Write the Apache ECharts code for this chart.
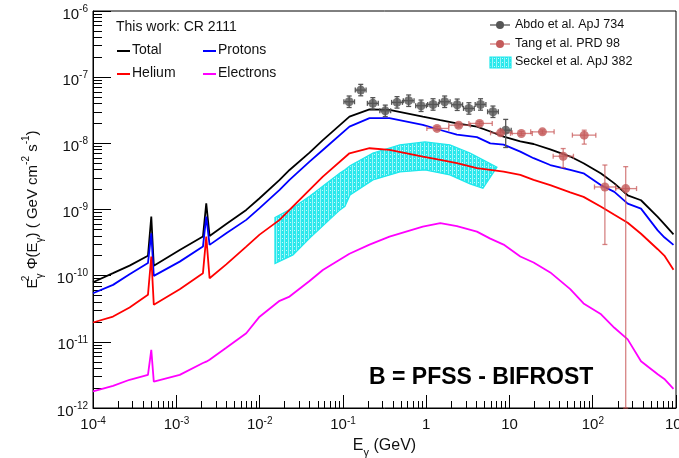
<!DOCTYPE html>
<html><head><meta charset="utf-8">
<script src="https://cdn.jsdelivr.net/npm/echarts@6/dist/echarts.min.js"></script>
<style>html,body{margin:0;padding:0;background:#fff}#c{width:679px;height:458px}</style>
</head><body><div id="c"></div>
<script>
// ---- model curves (E in GeV, E^2 Phi in GeV cm^-2 s^-1) ----
const energy = [1.00e-4,1.74e-4,2.75e-4,4.57e-4,5.01e-4,5.37e-4,1.10e-3,2.09e-3,2.29e-3,2.51e-3,
  3.98e-3,6.92e-3,1.00e-2,1.74e-2,2.29e-2,3.98e-2,5.75e-2,0.120,0.209,0.363,
  0.912,1.48,2.34,4.07,5.89,8.51,13.5,19.5,30.9,53.7,
  77.6,126,182,263,380,603,724,933];
const total = [7.94e-11,1.09e-10,1.42e-10,2.00e-10,7.82e-10,1.41e-10,2.45e-10,3.90e-10,1.24e-9,3.99e-10,
  6.03e-10,9.86e-10,1.48e-9,2.80e-9,3.96e-9,7.24e-9,1.12e-8,2.53e-8,3.27e-8,3.20e-8,
  2.53e-8,2.24e-8,2.01e-8,1.79e-8,1.51e-8,1.26e-8,1.07e-8,9.77e-9,8.13e-9,6.31e-9,
  5.01e-9,3.51e-9,2.48e-9,1.64e-9,1.38e-9,7.73e-10,6.03e-10,4.21e-10];
const protons = [5.43e-11,7.26e-11,1.05e-10,1.55e-10,4.37e-10,9.93e-11,1.63e-10,2.75e-10,7.82e-10,2.92e-10,
  4.37e-10,6.97e-10,1.05e-9,1.98e-9,2.80e-9,5.30e-9,7.94e-9,1.79e-8,2.40e-8,2.40e-8,
  1.90e-8,1.59e-8,1.35e-8,1.24e-8,1.00e-8,9.55e-9,7.50e-9,5.96e-9,4.70e-9,3.98e-9,
  3.53e-9,2.33e-9,1.85e-9,1.23e-9,1.03e-9,4.83e-10,3.80e-10,2.92e-10];
const helium = [1.96e-11,2.41e-11,3.31e-11,5.13e-11,1.95e-10,3.63e-11,6.25e-11,1.09e-10,3.90e-10,9.16e-11,
  1.48e-10,2.75e-10,4.17e-10,6.97e-10,9.86e-10,1.98e-9,3.14e-9,7.08e-9,8.43e-9,7.94e-9,
  6.31e-9,5.62e-9,5.01e-9,4.21e-9,3.98e-9,3.74e-9,3.33e-9,2.80e-9,2.33e-9,1.82e-9,
  1.55e-9,1.10e-9,8.32e-10,6.31e-10,4.30e-10,2.51e-10,2.01e-10,1.23e-10];
const electrons = [1.78e-12,2.16e-12,2.67e-12,3.17e-12,7.57e-12,2.51e-12,3.17e-12,4.79e-12,5.01e-12,5.37e-12,
  8.13e-12,1.35e-11,2.40e-11,4.17e-11,4.83e-11,8.32e-11,1.22e-10,2.14e-10,2.95e-10,3.90e-10,
  5.52e-10,6.21e-10,5.62e-10,4.63e-10,3.63e-10,2.95e-10,1.95e-10,1.58e-10,1.12e-10,6.25e-11,
  3.80e-11,2.61e-11,1.63e-11,1.09e-11,5.09e-12,3.24e-12,2.75e-12,1.95e-12];

// ---- Abdo et al. ApJ 734 ----
const abdoE   = [0.119,0.164,0.229,0.323,0.447,0.617,0.869,1.21,1.67,2.36,3.26,4.50,6.34,9.02];
const abdoElo = [0.103,0.141,0.197,0.278,0.385,0.532,0.749,1.043,1.44,2.03,2.81,3.88,5.47,7.78];
const abdoEhi = [0.138,0.190,0.266,0.375,0.519,0.716,1.008,1.404,1.94,2.74,3.78,5.22,7.35,10.5];
const abdoF   = [4.25e-8,6.38e-8,4.02e-8,3.10e-8,4.16e-8,4.41e-8,3.70e-8,3.87e-8,4.25e-8,3.83e-8,3.37e-8,3.87e-8,3.00e-8,1.58e-8];
const abdoFlo = [3.48e-8,5.23e-8,3.30e-8,2.54e-8,3.41e-8,3.61e-8,3.03e-8,3.17e-8,3.48e-8,3.14e-8,2.76e-8,3.17e-8,2.46e-8,8.65e-9];
const abdoFhi = [5.19e-8,7.78e-8,4.90e-8,3.78e-8,5.08e-8,5.38e-8,4.51e-8,4.72e-8,5.19e-8,4.67e-8,4.11e-8,4.72e-8,3.66e-8,2.30e-8];

// ---- Tang et al. PRD 98 ----
const tangE   = [1.35,2.46,4.38,7.83,13.9,24.9,44.2,79.1,140,249];
const tangElo = [1.02,1.87,3.26,5.93,10.3,18.0,33.5,57.0,105,189];
const tangEhi = [1.87,3.40,6.22,10.8,18.8,34.4,58.7,109,189,336];
const tangF   = [1.68e-8,1.88e-8,2.00e-8,1.44e-8,1.41e-8,1.49e-8,6.38e-9,1.33e-8,2.19e-9,2.07e-9];
const tangFlo = [1.57e-8,1.76e-8,1.87e-8,1.35e-8,1.32e-8,1.39e-8,4.30e-9,9.73e-9,2.96e-10,1.00e-12];
const tangFhi = [1.80e-8,2.01e-8,2.14e-8,1.54e-8,1.51e-8,1.59e-8,8.34e-9,1.58e-8,4.70e-9,4.44e-9];

// ---- Seckel et al. ApJ 382 band ----
const seckelE  = [1.53e-2,2.52e-2,4.03e-2,9.23e-2,0.106,0.122,0.230,0.484,0.968,1.93,3.36,4.81,7.08];
const seckelLo = [1.53e-10,2.06e-10,3.72e-10,9.86e-10,1.12e-9,1.66e-9,2.80e-9,3.70e-9,3.96e-9,3.33e-9,2.44e-9,2.09e-9,4.37e-9];
const seckelHi = [7.59e-10,1.06e-9,1.60e-9,3.57e-9,3.98e-9,4.57e-9,7.16e-9,9.46e-9,1.05e-8,9.46e-9,7.16e-9,5.62e-9,4.37e-9];

// ---- tick labels ----
const xTickValues = [1e-4,1e-3,1e-2,1e-1,1,10,100,1000];
const xTickBase   = ['10','10','10','10','1','10','10','10'];
const xTickExp    = ['-4','-3','-2','-1','','','2','3'];
const yTickValues = [1e-12,1e-11,1e-10,1e-9,1e-8,1e-7,1e-6];
const yTickBase   = ['10','10','10','10','10','10','10'];
const yTickExp    = ['-12','-11','-10','-9','-8','-7','-6'];

const FONT = "'Liberation Sans', Arial, Helvetica, sans-serif";

function minorTicks(lo, hi) {
  const out = [];
  for (let e = lo; e < hi; e++) for (let m = 2; m <= 9; m++) out.push(m * Math.pow(10, e));
  return out;
}
function findIdx(vals, v) {
  for (let i = 0; i < vals.length; i++) if (Math.abs(Math.log10(v) - Math.log10(vals[i])) < 0.01) return i;
  return -1;
}
function makeFmt(vals, base, exp) {
  return function (v) {
    const i = findIdx(vals, v);
    if (i < 0) return '';
    return '{z| }{b|' + base[i] + '}' + (exp[i] ? '{s|' + exp[i] + '}' : '');
  };
}
function makePattern() {
  const cv = document.createElement('canvas'); cv.width = 4; cv.height = 4;
  const g = cv.getContext('2d');
  g.fillStyle = '#2ae8ec'; g.fillRect(0, 0, 4, 4);
  g.fillStyle = '#9af5f7'; g.fillRect(0, 0, 1, 4);
  g.fillStyle = '#c8fbfc'; g.fillRect(2, 2, 1, 1);
  return cv;
}
const pattern = makePattern();

function errRender(color) {
  return function (params, api) {
    const x = api.value(0), y = api.value(1);
    const c = api.coord([x, y]);
    const l = api.coord([api.value(2), y]);
    const r = api.coord([api.value(3), y]);
    const b = api.coord([x, api.value(4)]);
    const t = api.coord([x, api.value(5)]);
    const st = { stroke: color, lineWidth: 1.3 };
    const cap = 2.5;
    return { type: 'group', children: [
      { type: 'line', shape: { x1: l[0], y1: c[1], x2: r[0], y2: c[1] }, style: st },
      { type: 'line', shape: { x1: c[0], y1: b[1], x2: c[0], y2: t[1] }, style: st },
      { type: 'line', shape: { x1: l[0], y1: c[1] - cap, x2: l[0], y2: c[1] + cap }, style: st },
      { type: 'line', shape: { x1: r[0], y1: c[1] - cap, x2: r[0], y2: c[1] + cap }, style: st },
      { type: 'line', shape: { x1: c[0] - cap, y1: b[1], x2: c[0] + cap, y2: b[1] }, style: st },
      { type: 'line', shape: { x1: c[0] - cap, y1: t[1], x2: c[0] + cap, y2: t[1] }, style: st }
    ]};
  };
}

const labelRichX = {
  z: { fontSize: 1, lineHeight: 20 },
  b: { fontSize: 15, lineHeight: 15, verticalAlign: 'bottom', fontFamily: FONT, color: '#111' },
  s: { fontSize: 10, verticalAlign: 'top', padding: [4, 0, 0, 0], fontFamily: FONT, color: '#111' }
};
const labelRichY = {
  z: { fontSize: 1, lineHeight: 22 },
  b: { fontSize: 15, lineHeight: 15, verticalAlign: 'bottom', fontFamily: FONT, color: '#111' },
  s: { fontSize: 10, verticalAlign: 'top', padding: [4, 0, 0, 0], fontFamily: FONT, color: '#111' }
};

function lineSeries(name, ys, color) {
  return {
    name: name, type: 'line', xAxisIndex: 0, yAxisIndex: 0, z: 3,
    data: energy.map((e, i) => [e, ys[i]]),
    symbol: 'none', showSymbol: false, smooth: false,
    lineStyle: { color: color, width: 1.8 }, itemStyle: { color: color },
    emphasis: { disabled: true }
  };
}

const chart = echarts.init(document.getElementById('c'), null, { renderer: 'canvas' });
const option = {
  animation: false,
  backgroundColor: '#fff',
  grid: { left: 93, right: 3, top: 11, bottom: 50, show: true, borderColor: '#000', borderWidth: 1,
          backgroundColor: 'rgba(0,0,0,0)', containLabel: false, outerBoundsMode: 'none' },
  xAxis: [{
    type: 'log', logBase: 10, min: 1e-4, max: 1e3, position: 'bottom',
    axisLine: { show: true, lineStyle: { color: '#000', width: 1 } },
    axisTick: { show: true, inside: true, length: 13, lineStyle: { color: '#000' }, customValues: xTickValues },
    axisLabel: { show: true, customValues: xTickValues, margin: 4, hideOverlap: false,
                 formatter: makeFmt(xTickValues, xTickBase, xTickExp), rich: labelRichX },
    splitLine: { show: false },
    name: '{m|E}{sub|γ}{m| (GeV)}', nameLocation: 'middle', nameGap: 26,
    nameTextStyle: { fontFamily: FONT, fontSize: 16, color: '#111', rich: {
      m: { fontSize: 16, lineHeight: 24, fontFamily: FONT, color: '#111' },
      sub: { fontSize: 11, lineHeight: 10, verticalAlign: 'bottom', fontFamily: FONT, color: '#111' } } }
  }, {
    type: 'log', logBase: 10, min: 1e-4, max: 1e3, position: 'bottom',
    axisLine: { show: false },
    axisTick: { show: true, inside: true, length: 7, lineStyle: { color: '#000' }, customValues: minorTicks(-4, 3) },
    axisLabel: { show: false }, splitLine: { show: false }
  }],
  yAxis: [{
    type: 'log', logBase: 10, min: 1e-12, max: 1e-6, position: 'left',
    axisLine: { show: true, lineStyle: { color: '#000', width: 1 } },
    axisTick: { show: true, inside: true, length: 18, lineStyle: { color: '#000' }, customValues: yTickValues },
    axisLabel: { show: true, customValues: yTickValues, margin: 5, hideOverlap: false,
                 formatter: makeFmt(yTickValues, yTickBase, yTickExp), rich: labelRichY },
    splitLine: { show: false },
    name: '{m|E}{sup2|2}{sub|γ}{m| Φ(E}{sub|γ}{m|) ( GeV cm}{sup|-2}{m| s}{sup|-1}{m|)}',
    nameLocation: 'middle', nameRotate: 90, nameGap: 47,
    nameTextStyle: { fontFamily: FONT, fontSize: 15, color: '#111', padding: [0, 0, 0, 0], rich: {
      m: { fontSize: 15, lineHeight: 26, fontFamily: FONT, color: '#111' },
      sup: { fontSize: 10, verticalAlign: 'top', padding: [2, 0, 0, 0], fontFamily: FONT, color: '#111' },
      sup2: { fontSize: 10, verticalAlign: 'top', padding: [2, 0, 0, 0], width: 0, fontFamily: FONT, color: '#111' },
      sub: { fontSize: 10, verticalAlign: 'bottom', fontFamily: FONT, color: '#111' } } }
  }, {
    type: 'log', logBase: 10, min: 1e-12, max: 1e-6, position: 'left',
    axisLine: { show: false },
    axisTick: { show: true, inside: true, length: 9, lineStyle: { color: '#000' }, customValues: minorTicks(-12, -6) },
    axisLabel: { show: false }, splitLine: { show: false }
  }],
  series: [
    {
      name: 'Seckel et al. ApJ 382', type: 'custom', xAxisIndex: 0, yAxisIndex: 0, z: 1,
      data: [[seckelE[0], seckelLo[0]]], encode: { x: 0, y: 1 },
      renderItem: function (params, api) {
        const pts = [];
        for (let i = 0; i < seckelE.length; i++) pts.push(api.coord([seckelE[i], seckelHi[i]]));
        for (let i = seckelE.length - 1; i >= 0; i--) pts.push(api.coord([seckelE[i], seckelLo[i]]));
        return { type: 'polygon', shape: { points: pts },
                 style: { fill: { image: pattern, repeat: 'repeat' }, stroke: '#1ee8ec', lineWidth: 1.2 } };
      }
    },
    lineSeries('Total', total, '#000000'),
    lineSeries('Protons', protons, '#0000ff'),
    lineSeries('Helium', helium, '#ff0000'),
    lineSeries('Electrons', electrons, '#ff00ff'),
    {
      name: 'Abdo err', type: 'custom', xAxisIndex: 0, yAxisIndex: 0, z: 4,
      data: abdoE.map((e, i) => [e, abdoF[i], abdoElo[i], abdoEhi[i], abdoFlo[i], abdoFhi[i]]),
      encode: { x: 0, y: 1 }, renderItem: errRender('#555555')
    },
    {
      name: 'Abdo et al. ApJ 734', type: 'scatter', xAxisIndex: 0, yAxisIndex: 0, z: 5,
      data: abdoE.map((e, i) => [e, abdoF[i]]), symbol: 'circle', symbolSize: 9,
      itemStyle: { color: '#555555' }
    },
    {
      name: 'Tang err', type: 'custom', xAxisIndex: 0, yAxisIndex: 0, z: 4,
      data: tangE.map((e, i) => [e, tangF[i], tangElo[i], tangEhi[i], tangFlo[i], tangFhi[i]]),
      encode: { x: 0, y: 1 }, renderItem: errRender('rgba(200,90,90,0.75)')
    },
    {
      name: 'Tang et al. PRD 98', type: 'scatter', xAxisIndex: 0, yAxisIndex: 0, z: 5,
      data: tangE.map((e, i) => [e, tangF[i]]), symbol: 'circle', symbolSize: 9,
      itemStyle: { color: '#c45a5a' }
    }
  ],
  graphic: [
    { type: 'text', left: 116, top: 20, style: { text: 'This work: CR 2111', font: '14px ' + FONT, fill: '#111' } },
    { type: 'line', shape: { x1: 117, y1: 51, x2: 130, y2: 51 }, style: { stroke: '#000', lineWidth: 2 } },
    { type: 'text', left: 132, top: 43, style: { text: 'Total', font: '14px ' + FONT, fill: '#111' } },
    { type: 'line', shape: { x1: 203, y1: 51, x2: 216, y2: 51 }, style: { stroke: '#0000ff', lineWidth: 2 } },
    { type: 'text', left: 218, top: 43, style: { text: 'Protons', font: '14px ' + FONT, fill: '#111' } },
    { type: 'line', shape: { x1: 117, y1: 74, x2: 130, y2: 74 }, style: { stroke: '#ff0000', lineWidth: 2 } },
    { type: 'text', left: 132, top: 66, style: { text: 'Helium', font: '14px ' + FONT, fill: '#111' } },
    { type: 'line', shape: { x1: 203, y1: 74, x2: 216, y2: 74 }, style: { stroke: '#ff00ff', lineWidth: 2 } },
    { type: 'text', left: 218, top: 66, style: { text: 'Electrons', font: '14px ' + FONT, fill: '#111' } },

    { type: 'line', shape: { x1: 490, y1: 25, x2: 510, y2: 25 }, style: { stroke: '#555', lineWidth: 1.3 } },
    { type: 'circle', shape: { cx: 500, cy: 25, r: 4 }, style: { fill: '#555' } },
    { type: 'text', left: 515, top: 18, style: { text: 'Abdo et al. ApJ 734', font: '12.5px ' + FONT, fill: '#111' } },
    { type: 'line', shape: { x1: 490, y1: 44, x2: 510, y2: 44 }, style: { stroke: 'rgba(200,90,90,0.8)', lineWidth: 1.3 } },
    { type: 'circle', shape: { cx: 500, cy: 44, r: 4 }, style: { fill: '#c45a5a' } },
    { type: 'text', left: 515, top: 37, style: { text: 'Tang et al. PRD 98', font: '12.5px ' + FONT, fill: '#111' } },
    { type: 'rect', shape: { x: 490, y: 57, width: 21, height: 11 },
      style: { fill: { image: pattern, repeat: 'repeat' }, stroke: '#1ee8ec', lineWidth: 1.2 } },
    { type: 'text', left: 515, top: 55, style: { text: 'Seckel et al. ApJ 382', font: '12.5px ' + FONT, fill: '#111' } },

    { type: 'text', left: 369, top: 366, style: { text: 'B = PFSS - BIFROST', font: 'bold 23px ' + FONT, fill: '#000' } }
  ]
};
chart.setOption(option);
</script>
</body></html>
